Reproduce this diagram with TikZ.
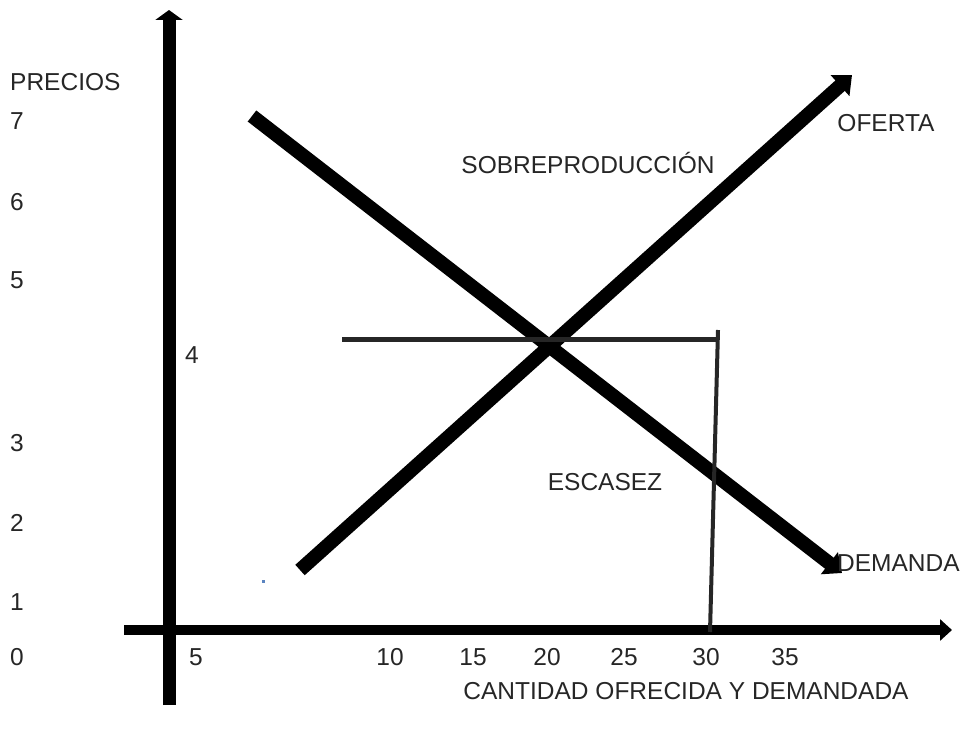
\documentclass[tikz,border=0pt]{standalone}
\usepackage{fontspec}
\setmainfont{Liberation Sans}
\usetikzlibrary{arrows.meta}
\begin{document}
\begin{tikzpicture}[x=1pt,y=-1pt,
  lbl/.style={inner sep=0pt,font=\fontsize{24.5}{29}\selectfont,text=black!85},
  axisline/.style={line width=#1,black},
  curve/.style={line width=14pt,black,line cap=butt,-{Triangle[length=16pt,width=27pt]}},
  guide/.style={line width=#1,black!85}]
\useasboundingbox (0,0) rectangle (966,738);
% axes
\coordinate (ybot) at (169,705);
\coordinate (ytop) at (169,10);
\coordinate (xleft) at (124,630);
\coordinate (xright) at (952,630);
\draw[axisline=13pt,-{Triangle[length=10pt,width=27pt]}] (ybot) -- (ytop);
\draw[axisline=10pt,-{Triangle[length=12pt,width=21pt]}] (xleft) -- (xright);
% supply and demand
\coordinate (s0) at (300,570);
\coordinate (s1) at (852,75);
\coordinate (d0) at (252,116);
\coordinate (d1) at (842,573);
\draw[curve] (s0) -- (s1);
\draw[curve] (d0) -- (d1);
% guide lines
\coordinate (h0) at (342,339);
\coordinate (h1) at (716,339);
\coordinate (v0) at (718,330);
\coordinate (v1) at (710,632);
\draw[guide=5pt] (h0) -- (h1);
\draw[guide=4pt] (v0) -- (v1);
% blue dot
\fill[fill={rgb,255:red,91;green,132;blue,192}] (261.5,579.5) rectangle (264.5,582.5);
% labels
\node[lbl,anchor=west] (precios) at (10,82) {PRECIOS};
\node[lbl] (p7) at (17,121) {7};
\node[lbl] (p6) at (17,202) {6};
\node[lbl] (p5) at (17,280) {5};
\node[lbl] (p4) at (192,355) {4};
\node[lbl] (p3) at (17,443) {3};
\node[lbl] (p2) at (17,523) {2};
\node[lbl] (p1) at (17,602) {1};
\node[lbl] (p0) at (17,657) {0};
\node[lbl] (q5) at (196,657) {5};
\node[lbl] (q10) at (390,657) {10};
\node[lbl] (q15) at (473,657) {15};
\node[lbl] (q20) at (547,657) {20};
\node[lbl] (q25) at (624,657) {25};
\node[lbl] (q30) at (706,657) {30};
\node[lbl] (q35) at (785,657) {35};
\node[lbl] (cant) at (686,691) {CANTIDAD OFRECIDA Y DEMANDADA};
\node[lbl] (sobre) at (588,163) {SOBREPRODUCCIÓN};
\node[lbl] (esc) at (605,482) {ESCASEZ};
\node[lbl] (ofe) at (886,123) {OFERTA};
\node[lbl,anchor=west] (dem) at (837,563) {DEMANDA};
\end{tikzpicture}
\end{document}
